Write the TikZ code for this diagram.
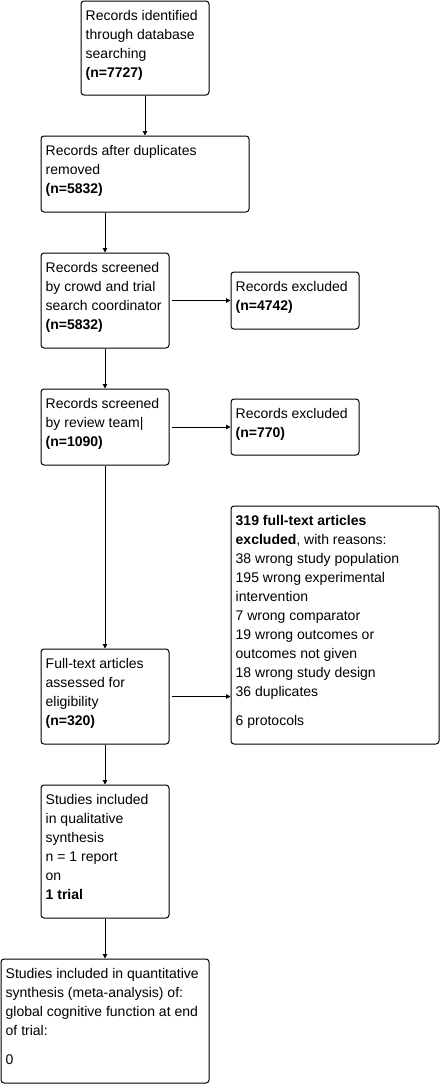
\documentclass[tikz,border=0pt]{standalone}
\usepackage{fontspec}
\setmainfont{Liberation Sans}
\usetikzlibrary{arrows.meta}
\tikzset{
  bx/.style={draw, rounded corners=3pt, line width=1pt, inner sep=0pt},
  txt/.style={font=\fontsize{14}{19}\selectfont, align=left, inner sep=0pt, anchor=north west},
  arr/.style={line width=1pt, -{Triangle[length=4.5pt,width=4.5pt]}}
}
\newcommand\mkbox[6]{%
  \node[bx, minimum width={(#4)-(#2)}, minimum height={(#5)-(#3)}] (#1) at ({((#2)+(#4))/2},{((#3)+(#5))/2}) {};
  \node[txt] (#1t) at ({(#2)+4.5},{(#3)+5.7}) {\strut #6};
}
\begin{document}
\begin{tikzpicture}[x=1pt,y=-1pt]
\useasboundingbox (0,0) rectangle (441,1084);
\mkbox{b1}{81}{1}{209}{95}{Records identified\\through database\\searching\\\textbf{(n=7727)}}
\mkbox{b2}{41}{136}{249}{212}{Records after duplicates\\removed\\\textbf{(n=5832)}}
\mkbox{b3}{41}{253}{169}{348}{Records screened\\by crowd and trial\\search coordinator\\\textbf{(n=5832)}}
\mkbox{e1}{231}{272}{359}{329}{Records excluded\\\textbf{(n=4742)}}
\mkbox{b4}{41}{389}{169}{465}{Records screened\\by review team|\\\textbf{(n=1090)}}
\mkbox{e2}{231}{399}{359}{455}{Records excluded\\\textbf{(n=770)}}
\mkbox{e3}{231}{506}{439}{744}{\textbf{319 full-text articles}\\\textbf{excluded}, with reasons:\\38 wrong study population\\195 wrong experimental\\intervention\\7 wrong comparator\\19 wrong outcomes or\\outcomes not given\\18 wrong study design\\36 duplicates\\[10pt]6 protocols}
\mkbox{b5}{41}{649}{169}{744}{Full-text articles\\assessed for\\eligibility\\\textbf{(n=320)}}
\mkbox{b6}{41}{785}{169}{918}{Studies included\\in qualitative\\synthesis\\n = 1 report\\on\\\textbf{1 trial}}
\mkbox{b7}{1}{959}{209}{1083}{Studies included in quantitative\\synthesis (meta-analysis) of:\\global cognitive function at end\\of trial:\\[10pt]0}
\draw[arr] (b1.south) -- (b2.north);
\draw[arr] (b3.north |- b2.south) -- (b3.north);
\draw[arr] (b3.south) -- (b4.north);
\draw[arr] (b4.south) -- (b5.north);
\draw[arr] (b5.south) -- (b6.north);
\draw[arr] (b6.south) -- (b6.south |- b7.north);
\draw[arr, shorten <=2pt] (b3.east) -- (e1.west);
\draw[arr, shorten <=2pt] (b4.east) -- (e2.west);
\draw[arr, shorten <=2pt] (b5.east) -- (b5.east -| e3.west);
\end{tikzpicture}
\end{document}
